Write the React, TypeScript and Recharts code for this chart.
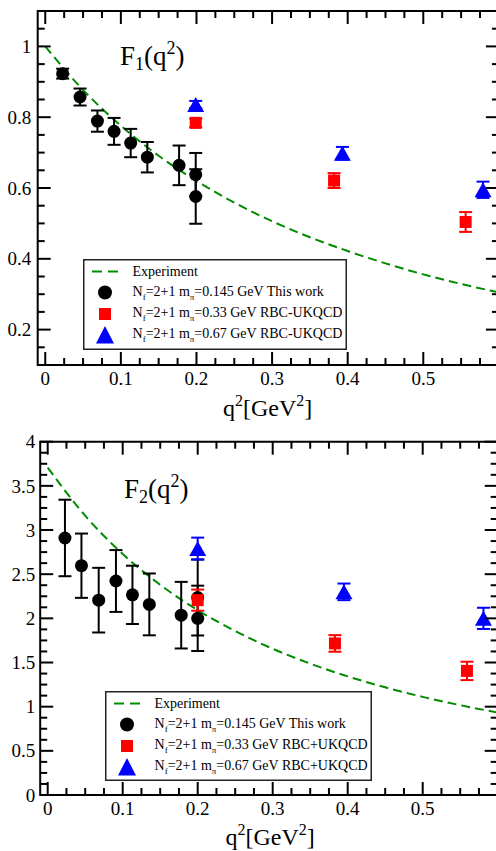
import React from "react";
import {
  ComposedChart,
  Scatter,
  Line,
  XAxis,
  YAxis,
  ErrorBar,
  ReferenceArea,
  Legend,
  Customized,
} from "recharts";

const SERIF = '"Liberation Serif", "DejaVu Serif", "Times New Roman", serif';
const GREEN = "#008b00";
const RED = "#ff0000";
const BLUE = "#0000ff";

// q^2 axis ticks (GeV^2)
const xMajorTicks = [0, 0.1, 0.2, 0.3, 0.4, 0.5];
const xMinorTicks = [
  0.025, 0.05, 0.075, 0.125, 0.15, 0.175, 0.225, 0.25, 0.275, 0.325, 0.35,
  0.375, 0.425, 0.45, 0.475, 0.525, 0.55, 0.575,
];

// ---- F1 panel ----
const f1MajorTicks = [0.2, 0.4, 0.6, 0.8, 1];
const f1MinorTicks = [
  0.1, 0.15, 0.25, 0.3, 0.35, 0.45, 0.5, 0.55, 0.65, 0.7, 0.75, 0.85, 0.9,
  0.95, 1.05,
];

const f1ExpQ2 = [0, 0.05, 0.1, 0.15, 0.2, 0.25, 0.3, 0.35, 0.4, 0.45, 0.5, 0.55, 0.6];
const f1ExpVal = [1.0, 0.877, 0.776, 0.691, 0.62, 0.559, 0.506, 0.461, 0.422, 0.387, 0.356, 0.329, 0.305];

const f1ThisQ2 = [0.023, 0.046, 0.069, 0.091, 0.113, 0.135, 0.177, 0.199, 0.199];
const f1ThisVal = [0.923, 0.857, 0.789, 0.76, 0.727, 0.687, 0.664, 0.638, 0.576];
const f1ThisErr = [0.014, 0.024, 0.03, 0.038, 0.04, 0.043, 0.056, 0.061, 0.077];

const f1M33Q2 = [0.199, 0.382, 0.556];
const f1M33Val = [0.784, 0.621, 0.504];
const f1M33Err = [0.012, 0.021, 0.028];

const f1M67Q2 = [0.199, 0.393, 0.579];
const f1M67Val = [0.836, 0.698, 0.595];
const f1M67Err = [0.01, 0.018, 0.023];

// ---- F2 panel ----
const f2MajorTicks = [0, 0.5, 1, 1.5, 2, 2.5, 3, 3.5, 4];
const f2MinorTicks = [
  0.125, 0.25, 0.375, 0.625, 0.75, 0.875, 1.125, 1.25, 1.375, 1.625, 1.75,
  1.875, 2.125, 2.25, 2.375, 2.625, 2.75, 2.875, 3.125, 3.25, 3.375, 3.625,
  3.75, 3.875,
];

const f2ExpQ2 = [0, 0.05, 0.1, 0.15, 0.2, 0.25, 0.3, 0.35, 0.4, 0.45, 0.5, 0.55, 0.6];
const f2ExpVal = [3.706, 3.162, 2.729, 2.38, 2.093, 1.856, 1.656, 1.487, 1.343, 1.219, 1.111, 1.017, 0.934];

const f2ThisQ2 = [0.023, 0.045, 0.068, 0.091, 0.113, 0.1355, 0.178, 0.2, 0.2];
const f2ThisVal = [2.91, 2.596, 2.206, 2.423, 2.266, 2.158, 2.036, 2.236, 2.0];
const f2ThisErr = [0.433, 0.364, 0.366, 0.35, 0.33, 0.35, 0.377, 0.43, 0.37];

const f2M33Q2 = [0.2, 0.383, 0.559];
const f2M33Val = [2.206, 1.716, 1.405];
const f2M33Err = [0.12, 0.094, 0.104];

const f2M67Q2 = [0.2, 0.395, 0.581];
const f2M67Val = [2.79, 2.3, 2.0];
const f2M67Err = [0.124, 0.094, 0.12];

// legend texts
const legendMasses = ["0.145", "0.33", "0.67"];
const f1Tags = ["This work", "RBC-UKQCD", "RBC-UKQCD"];
const f2Tags = ["This work", "RBC+UKQCD", "RBC+UKQCD"];

type Pt = { x: number; y: number; err?: number };
const zip = (xs: number[], ys: number[], es?: number[]): Pt[] =>
  xs.map((x, i) => ({ x, y: ys[i], err: es ? es[i] : undefined }));

const NoMark = () => <g />;
const Dot = (p: any) => <circle cx={p.cx} cy={p.cy} r={6.5} fill="#000" />;
const Square = (p: any) => (
  <rect x={p.cx - 6} y={p.cy - 6} width={12} height={12} fill={RED} />
);
const Tri = (p: any) => (
  <polygon
    points={`${p.cx},${p.cy - 7.5} ${p.cx - 8.5},${p.cy + 7.5} ${p.cx + 8.5},${p.cy + 7.5}`}
    fill={BLUE}
  />
);

function XTick(props: any) {
  const { x, y, payload, plotH } = props;
  const v = payload.value;
  const major = xMajorTicks.includes(v);
  const len = major ? 13 : 7;
  return (
    <g>
      <line x1={x} y1={y} x2={x} y2={y - len} stroke="#000" strokeWidth={2} />
      <line x1={x} y1={y - plotH} x2={x} y2={y - plotH + len} stroke="#000" strokeWidth={2} />
      {major && (
        <text x={x} y={y + 20} textAnchor="middle" fontSize={19} fontFamily={SERIF} fill="#000">
          {v}
        </text>
      )}
    </g>
  );
}

function YTick(props: any) {
  const { x, y, payload, plotW, majors, gap } = props;
  const v = payload.value;
  const major = majors.includes(v);
  const len = major ? 13 : 7;
  return (
    <g>
      <line x1={x} y1={y} x2={x + len} y2={y} stroke="#000" strokeWidth={2} />
      <line x1={x + plotW} y1={y} x2={x + plotW - len} y2={y} stroke="#000" strokeWidth={2} />
      {major && (
        <text x={x - gap} y={y} dy="0.35em" textAnchor="end" fontSize={19} fontFamily={SERIF} fill="#000">
          {v}
        </text>
      )}
    </g>
  );
}

function LegendBox({ width, height, tags }: { width: number; height: number; tags: string[] }) {
  const rows = [33.5, 55, 76];
  const sx = 22;
  const tx = 49.5;
  return (
    <svg width={width} height={height} style={{ display: "block", overflow: "visible" }}>
      <rect x={0.75} y={0.75} width={width - 1.5} height={height - 1.5} fill="#fff" stroke="#222" strokeWidth={1.5} />
      <line x1={9} y1={12.5} x2={35} y2={12.5} stroke={GREEN} strokeWidth={2} strokeDasharray="10 6" />
      <text x={tx} y={16.5} fontSize={14} fontFamily={SERIF} fill="#000">
        Experiment
      </text>
      <circle cx={sx} cy={rows[0]} r={7} fill="#000" />
      <rect x={sx - 6} y={rows[1] - 6} width={12} height={12} fill={RED} />
      <polygon points={`${sx},${rows[2] - 9} ${sx - 9},${rows[2] + 8.5} ${sx + 9},${rows[2] + 8.5}`} fill={BLUE} />
      {legendMasses.map((m, i) => (
        <text key={m} x={tx} y={rows[i] + 3} fontSize={14} fontFamily={SERIF} fill="#000">
          N
          <tspan fontSize={9} dy={4}>f</tspan>
          <tspan dy={-4}>=2+1 m</tspan>
          <tspan fontSize={9} dy={4}>π</tspan>
          <tspan dy={-4}>{`=${m} GeV ${tags[i]}`}</tspan>
        </text>
      ))}
    </svg>
  );
}

type PanelProps = {
  width: number;
  height: number;
  margin: { top: number; right: number; bottom: number; left: number };
  yDomain: [number, number];
  yMajors: number[];
  yMinors: number[];
  yGap: number;
  exp: Pt[];
  thisWork: Pt[];
  m33: Pt[];
  m67: Pt[];
  sub: string;
  titleX: number;
  titleY: number;
  axisTitleY: number;
  legendPos: { left: number; top: number; width: number; height: number };
  tags: string[];
};

// the axes get a 1px band (a 0px one is not drawn); margins give the plot box
function Panel(p: PanelProps) {
  const plotW = p.width - p.margin.left - p.margin.right;
  const plotH = p.height - p.margin.top - p.margin.bottom;
  const margin = { ...p.margin, left: p.margin.left - 1, bottom: p.margin.bottom - 1 };
  const xDomain: [number, number] = [-0.01, 0.6];
  const Titles = () => (
    <g fontFamily={SERIF} fill="#000">
      <text x={p.titleX} y={p.titleY} fontSize={27}>
        F
        <tspan fontSize={18} dy={5}>{p.sub}</tspan>
        <tspan dy={-5}>(q</tspan>
        <tspan fontSize={18} dy={-11}>2</tspan>
        <tspan dy={11}>)</tspan>
      </text>
      <text x={p.margin.left + 230} y={p.axisTitleY} fontSize={24} textAnchor="middle">
        q<tspan fontSize={16} dy={-10}>2</tspan>
        <tspan dy={10}>[GeV</tspan>
        <tspan fontSize={16} dy={-10}>2</tspan>
        <tspan dy={10}>]</tspan>
      </text>
    </g>
  );
  // each data set: error bars first, then its symbols on top
  const sets = [
    { data: p.thisWork, color: "#000", shape: Dot, name: "This work" },
    { data: p.m33, color: RED, shape: Square, name: "0.33 GeV" },
    { data: p.m67, color: BLUE, shape: Tri, name: "0.67 GeV" },
  ];
  return (
    <ComposedChart width={p.width} height={p.height} margin={margin}>
      <XAxis
        dataKey="x"
        type="number"
        domain={xDomain}
        allowDataOverflow
        ticks={[...xMajorTicks, ...xMinorTicks]}
        interval={0}
        height={1}
        tickSize={0}
        tickMargin={0}
        tickLine={false}
        axisLine={false}
        tick={(t: any) => <XTick {...t} plotH={plotH} />}
      />
      <YAxis
        dataKey="y"
        type="number"
        domain={p.yDomain}
        allowDataOverflow
        ticks={[...p.yMajors, ...p.yMinors]}
        interval={0}
        width={1}
        tickSize={0}
        tickMargin={0}
        tickLine={false}
        axisLine={false}
        tick={(t: any) => <YTick {...t} plotW={plotW} majors={p.yMajors} gap={p.yGap} />}
      />
      <ReferenceArea
        x1={xDomain[0]}
        x2={xDomain[1]}
        y1={p.yDomain[0]}
        y2={p.yDomain[1]}
        fill="none"
        stroke="#000"
        strokeWidth={2}
      />
      <Line
        data={p.exp}
        dataKey="y"
        type="monotone"
        stroke={GREEN}
        strokeWidth={2}
        strokeDasharray="9 5"
        dot={false}
        activeDot={false}
        isAnimationActive={false}
        name="Experiment"
      />
      {sets.flatMap((s) => [
        <Scatter key={s.name + "-err"} data={s.data} dataKey="y" shape={NoMark} isAnimationActive={false} legendType="none">
          <ErrorBar dataKey="err" direction="y" width={6.5} stroke={s.color} strokeWidth={2} />
        </Scatter>,
        <Scatter key={s.name} data={s.data} dataKey="y" shape={s.shape} isAnimationActive={false} name={s.name} />,
      ])}
      <Legend
        layout="vertical"
        verticalAlign="middle"
        align="center"
        wrapperStyle={{ ...p.legendPos, position: "absolute" }}
        content={() => (
          <LegendBox width={p.legendPos.width} height={p.legendPos.height} tags={p.tags} />
        )}
      />
      <Customized component={Titles} />
    </ComposedChart>
  );
}

export default function App() {
  return (
    <div
      style={{
        position: "absolute",
        left: 0,
        top: 0,
        width: 496,
        height: 851,
        overflow: "hidden",
        background: "#fff",
      }}
    >
      <div style={{ position: "absolute", left: 0, top: 0 }}>
        <Panel
          width={500}
          height={425}
          margin={{ top: 11, right: 1.1, bottom: 60, left: 37.7 }}
          yDomain={[0.1, 1.1]}
          yMajors={f1MajorTicks}
          yMinors={f1MinorTicks}
          yGap={6.5}
          exp={zip(f1ExpQ2, f1ExpVal)}
          thisWork={zip(f1ThisQ2, f1ThisVal, f1ThisErr)}
          m33={zip(f1M33Q2, f1M33Val, f1M33Err)}
          m67={zip(f1M67Q2, f1M67Val, f1M67Err)}
          sub="1"
          titleX={120}
          titleY={65}
          axisTitleY={416}
          legendPos={{ left: 83, top: 259, width: 264, height: 91 }}
          tags={f1Tags}
        />
      </div>
      <div style={{ position: "absolute", left: 0, top: 425 }}>
        <Panel
          width={500}
          height={426}
          margin={{ top: 16.7, right: 2.3, bottom: 56, left: 40.2 }}
          yDomain={[0, 4]}
          yMajors={f2MajorTicks}
          yMinors={f2MinorTicks}
          yGap={5}
          exp={zip(f2ExpQ2, f2ExpVal)}
          thisWork={zip(f2ThisQ2, f2ThisVal, f2ThisErr)}
          m33={zip(f2M33Q2, f2M33Val, f2M33Err)}
          m67={zip(f2M67Q2, f2M67Val, f2M67Err)}
          sub="2"
          titleX={124}
          titleY={73.3}
          axisTitleY={420}
          legendPos={{ left: 105, top: 265.7, width: 267, height: 90 }}
          tags={f2Tags}
        />
      </div>
    </div>
  );
}
